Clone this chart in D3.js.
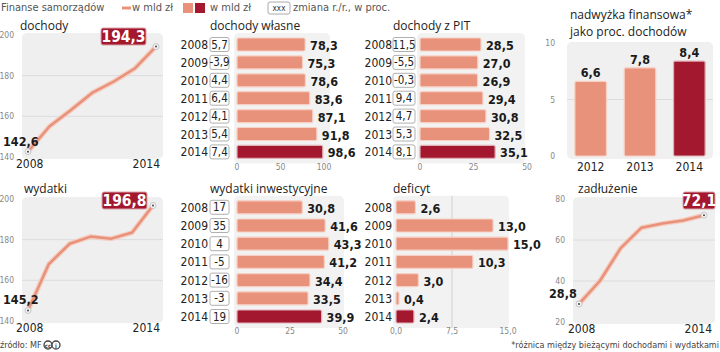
<!DOCTYPE html>
<html><head><meta charset="utf-8">
<script src="https://cdn.jsdelivr.net/npm/d3@7/dist/d3.min.js"></script>
<style>
body{margin:0;background:#fff;}
svg{display:block;}
text{font-family:"DejaVu Sans Condensed","DejaVu Sans",sans-serif;}
.ttl{font-family:"Open Sans","DejaVu Sans",sans-serif;font-size:12px;fill:#222;}
.tick{font-size:8.5px;fill:#888;}
.yr{font-size:12px;fill:#222;}
.val{font-size:12.5px;font-weight:bold;fill:#1a1a1a;}
</style></head>
<body><svg id="c" width="720" height="352"></svg>
<script>
// ---- data ----
const years = [2008, 2009, 2010, 2011, 2012, 2013, 2014];
const dochody = [142.6, 155, 163, 171.5, 177, 183.5, 194.3];
const wydatki = [145.2, 168, 178, 181.5, 180.5, 183.5, 196.8];
const zadluzenie = [28.8, 40, 56, 66, 68, 69.5, 72.1];
const dochodyWlasne = [78.3, 75.3, 78.6, 83.6, 87.1, 91.8, 98.6];
const dochodyWlasneZm = ["5,7", "-3,9", "4,4", "6,4", "4,1", "5,4", "7,4"];
const dochodyPit = [28.5, 27.0, 26.9, 29.4, 30.8, 32.5, 35.1];
const dochodyPitZm = ["11,5", "-5,5", "-0,3", "9,4", "4,7", "5,3", "8,1"];
const wydatkiInwest = [30.8, 41.6, 43.3, 41.2, 34.4, 33.5, 39.9];
const wydatkiInwestZm = ["17", "35", "4", "-5", "-16", "-3", "19"];
const deficyt = [2.6, 13.0, 15.0, 10.3, 3.0, 0.4, 2.4];
const nadwyzkaYears = [2012, 2013, 2014];
const nadwyzka = [6.6, 7.8, 8.4];
const ticksDoch = [140, 160, 180, 200];
const ticksZad = [20, 40, 60, 80];
const ticksWlasne = [0, 50, 100];
const ticksPit = [0, 25, 50];
const ticksInwest = [0, 25, 50];
const ticksDef = [0, 7.5, 15];
const ticksNad = [0, 5, 10];

// ---- styles ----
const SALMON = "#e8917b", SALMON_LT = "#f6cdbf", DARK = "#a3182f", BG = "#efefef", GRID = "#dcdcdc";
const fmt1 = v => d3.format(".1f")(v).replace(".", ",");
const svg = d3.select("#c");

// header / legend
svg.append("text").attr("x", 1).attr("y", 11).attr("font-family", "Open Sans").attr("font-size", 11).attr("fill", "#555").text("Finanse samorządów");
svg.append("line").attr("x1", 122).attr("x2", 131).attr("y1", 8).attr("y2", 8).attr("stroke", SALMON).attr("stroke-width", 3);
svg.append("text").attr("x", 132).attr("y", 11).attr("font-family", "Open Sans").attr("font-size", 11).attr("fill", "#555").text("w mld zł");
svg.append("rect").attr("x", 183).attr("y", 3).attr("width", 10).attr("height", 10).attr("fill", SALMON);
svg.append("rect").attr("x", 195).attr("y", 3).attr("width", 10).attr("height", 10).attr("fill", DARK);
svg.append("text").attr("x", 210).attr("y", 11).attr("font-family", "Open Sans").attr("font-size", 11).attr("fill", "#555").text("w mld zł");
svg.append("rect").attr("x", 268).attr("y", 2).attr("width", 22).attr("height", 12).attr("rx", 2).attr("fill", "#fff").attr("stroke", "#aaa");
svg.append("text").attr("x", 279).attr("y", 11).attr("text-anchor", "middle").attr("font-size", 8).attr("fill", "#333").text("xxx");
svg.append("text").attr("x", 293).attr("y", 11).attr("font-family", "Open Sans").attr("font-size", 11).attr("fill", "#555").text("zmiana r./r., w proc.");

// footer
svg.append("text").attr("x", 0).attr("y", 348).attr("font-family", "Open Sans").attr("font-size", 9).attr("fill", "#444").text("źródło: MF");
[48, 56].forEach((cx, i) => {
  svg.append("circle").attr("cx", cx).attr("cy", 345).attr("r", 4).attr("fill", "#fff").attr("stroke", "#444").attr("stroke-width", 1.3);
  svg.append("text").attr("x", cx).attr("y", 347.5).attr("text-anchor", "middle").attr("font-size", 6).attr("font-weight", "bold").attr("fill", "#444").text(i ? "i" : "cc");
});
svg.append("text").attr("x", 719).attr("y", 348).attr("text-anchor", "end").attr("font-family", "Open Sans").attr("font-size", 9).attr("fill", "#444").text("*różnica między bieżącymi dochodami i wydatkami");

// ---- line chart ----
function lineChart(o) {
  const g = svg.append("g");
  const x = d3.scaleLinear().domain([years[0], years[years.length - 1]]).range(o.xr);
  const y = d3.scaleLinear().domain(o.yd).range(o.yr);
  g.append("rect").attr("x", o.bg[0]).attr("y", o.yr[1] - 2).attr("width", o.bg[1] - o.bg[0]).attr("height", o.yr[0] - o.yr[1] + 4).attr("rx", 5).attr("fill", BG);
  o.ticks.forEach((t, i) => {
    if (i > 0 && i < o.ticks.length - 1)
      g.append("line").attr("x1", o.bg[0]).attr("x2", o.bg[1]).attr("y1", y(t)).attr("y2", y(t)).attr("stroke", GRID);
    g.append("text").attr("class", "tick").attr("x", o.tickX).attr("y", y(t) + 3).attr("text-anchor", "end").text(t);
  });
  const line = d3.line().x((d, i) => x(years[i])).y(d => y(d));
  g.append("path").attr("d", line(o.data)).attr("fill", "none").attr("stroke", SALMON_LT).attr("stroke-width", 5).attr("stroke-linejoin", "round");
  g.append("path").attr("d", line(o.data)).attr("fill", "none").attr("stroke", SALMON).attr("stroke-width", 2.5).attr("stroke-linejoin", "round");
  [0, o.data.length - 1].forEach(i => {
    g.append("circle").attr("cx", x(years[i])).attr("cy", y(o.data[i])).attr("r", 3).attr("fill", "#f4f4f4").attr("stroke", "#bbb").attr("stroke-width", 0.8);
    g.append("circle").attr("cx", x(years[i])).attr("cy", y(o.data[i])).attr("r", 1).attr("fill", "#444");
  });
  g.append("text").attr("class", "ttl").attr("x", o.title[0]).attr("y", o.title[1]).text(o.name);
  g.append("text").attr("class", "val").attr("font-size", 13.5).attr("x", o.firstX).attr("y", y(o.data[0]) - 6).attr("text-anchor", "start").text(fmt1(o.data[0]));
  const last = o.data[o.data.length - 1];
  g.append("rect").attr("x", o.box[0]).attr("y", o.box[1]).attr("width", o.box[2]).attr("height", 17).attr("rx", 2).attr("fill", DARK).attr("stroke", "#d9a3ab").attr("stroke-width", 1);
  g.append("text").attr("x", o.box[0] + o.box[2] / 2).attr("y", o.box[1] + 14).attr("text-anchor", "middle").attr("font-size", 15.5).attr("font-weight", "bold").attr("fill", "#fff").text(fmt1(last));
  g.append("text").attr("class", "yr").attr("x", o.yrs[0]).attr("y", o.yrs[2]).attr("text-anchor", "start").text(years[0]);
  g.append("text").attr("class", "yr").attr("x", o.yrs[1]).attr("y", o.yrs[2]).attr("text-anchor", "end").text(years[years.length - 1]);
}

lineChart({ data: dochody, name: "dochody", xr: [28, 156], yd: [140, 200], yr: [157, 35], bg: [22, 163], ticks: ticksDoch, tickX: 14,
  title: [20, 30], firstX: 3, box: [101, 28, 45], yrs: [16, 160, 168] });
lineChart({ data: wydatki, name: "wydatki", xr: [28, 153], yd: [140, 200], yr: [321, 199], bg: [22, 163], ticks: ticksDoch, tickX: 14,
  title: [24, 193], firstX: 3, box: [102, 192, 45], yrs: [16, 160, 332] });
lineChart({ data: zadluzenie, name: "zadłużenie", xr: [579, 704], yd: [20, 80], yr: [322, 199], bg: [573, 715], ticks: ticksZad, tickX: 565,
  title: [578, 193], firstX: 549, box: [683, 192, 32], yrs: [568, 712, 333] });

// ---- horizontal bar chart ----
function barChart(o) {
  const g = svg.append("g");
  const x = d3.scaleLinear().domain([0, o.max]).range([o.x0, o.x1]);
  const rowY = i => o.y0 + i * o.step;
  const bh = 13;
  g.append("rect").attr("x", o.x0 - 3).attr("y", rowY(0) - bh / 2 - 5).attr("width", o.bgW).attr("height", rowY(6) - rowY(0) + bh + 10).attr("rx", 5).attr("fill", "#f2f2f2");
  if (o.grid) o.ticks.slice(1, -1).forEach(t => g.append("line").attr("x1", x(t)).attr("x2", x(t)).attr("y1", rowY(0) - bh / 2 - 5).attr("y2", rowY(6) + bh / 2 + 5).attr("stroke", "#cfcfcf"));
  g.append("text").attr("class", "ttl").attr("x", o.title[0]).attr("y", o.title[1]).text(o.name);
  o.data.forEach((v, i) => {
    const cy = rowY(i);
    g.append("text").attr("class", "yr").attr("font-size", 12.5).attr("x", o.yrX).attr("y", cy + 4.5).attr("text-anchor", "end").text(years[i]);
    if (o.zm) {
      g.append("rect").attr("x", o.box[0]).attr("y", cy - 7).attr("width", o.box[1]).attr("height", 14).attr("rx", 2).attr("fill", "#fff").attr("stroke", "#b0b0b0");
      g.append("text").attr("x", o.box[0] + o.box[1] / 2).attr("y", cy + 4).attr("text-anchor", "middle").attr("font-size", 11.5).attr("fill", "#222").text(o.zm[i]);
    }
    g.append("rect").attr("x", x(0)).attr("y", cy - bh / 2).attr("width", Math.max(2, x(v) - x(0))).attr("height", bh).attr("rx", 1.5)
      .attr("fill", i === o.data.length - 1 ? DARK : SALMON).attr("stroke", i === o.data.length - 1 ? "#e0b0b7" : "#f7d0c3").attr("stroke-width", 1.2);
    g.append("text").attr("class", "val").attr("font-size", 13).attr("x", x(v) + 5).attr("y", cy + 5.5).text(fmt1(v));
  });
  o.ticks.forEach(t => g.append("text").attr("class", "tick").attr("x", x(t)).attr("y", o.tickY).attr("text-anchor", "middle").text(o.tickFmt ? o.tickFmt(t) : t));
}

barChart({ data: dochodyWlasne, zm: dochodyWlasneZm, name: "dochody własne", max: 100, x0: 237, x1: 324, bgW: 96, y0: 44.5, step: 17.9,
  yrX: 208, box: [210, 19], ticks: ticksWlasne, tickY: 170, title: [210, 30] });
barChart({ data: dochodyPit, zm: dochodyPitZm, name: "dochody z PIT", max: 50, x0: 420, x1: 527, bgW: 108, y0: 44.5, step: 17.9,
  yrX: 392, box: [393, 22], ticks: ticksPit, tickY: 170, title: [393, 30] });
barChart({ data: wydatkiInwest, zm: wydatkiInwestZm, name: "wydatki inwestycyjne", max: 50, x0: 237, x1: 343, bgW: 110, y0: 207.3, step: 18.2,
  yrX: 208, box: [210, 19], ticks: ticksInwest, tickY: 334, title: [210, 193] });
barChart({ data: deficyt, zm: null, name: "deficyt", max: 15, x0: 396, x1: 508, bgW: 116, y0: 207.3, step: 18.2, grid: true,
  yrX: 392, ticks: ticksDef, tickY: 334, title: [393, 193], tickFmt: fmt1 });

// ---- vertical bar chart (nadwyżka) ----
(function () {
  const g = svg.append("g");
  const x = d3.scaleBand().domain(nadwyzkaYears).range([566, 714]).paddingInner(0.36).paddingOuter(0.18);
  const y = d3.scaleLinear().domain([0, 10]).range([156, 43]);
  g.append("rect").attr("x", 567).attr("y", 42).attr("width", 146).attr("height", 117).attr("rx", 5).attr("fill", "#f0f0f0");
  g.append("line").attr("x1", 567).attr("x2", 713).attr("y1", y(5)).attr("y2", y(5)).attr("stroke", GRID);
  ticksNad.forEach(t => g.append("text").attr("class", "tick").attr("x", 555).attr("y", y(t) + 3).attr("text-anchor", "end").text(t));
  g.append("text").attr("class", "ttl").attr("font-size", 11.5).attr("x", 570).attr("y", 19).text("nadwyżka finansowa*");
  g.append("text").attr("class", "ttl").attr("font-size", 11.5).attr("x", 570).attr("y", 36).text("jako proc. dochodów");
  nadwyzka.forEach((v, i) => {
    const yr = nadwyzkaYears[i];
    g.append("rect").attr("x", x(yr)).attr("y", y(v)).attr("width", x.bandwidth()).attr("height", y(0) - y(v)).attr("rx", 1.5)
      .attr("fill", i === nadwyzka.length - 1 ? DARK : SALMON).attr("stroke", i === nadwyzka.length - 1 ? "#e0b0b7" : "#f7d0c3").attr("stroke-width", 1.2);
    g.append("text").attr("class", "val").attr("font-size", 13.5).attr("x", x(yr) + x.bandwidth() / 2).attr("y", y(v) - 4).attr("text-anchor", "middle").text(fmt1(v));
    g.append("text").attr("class", "yr").attr("font-size", 13).attr("x", x(yr) + x.bandwidth() / 2).attr("y", 171).attr("text-anchor", "middle").text(yr);
  });
})();
</script></body></html>
